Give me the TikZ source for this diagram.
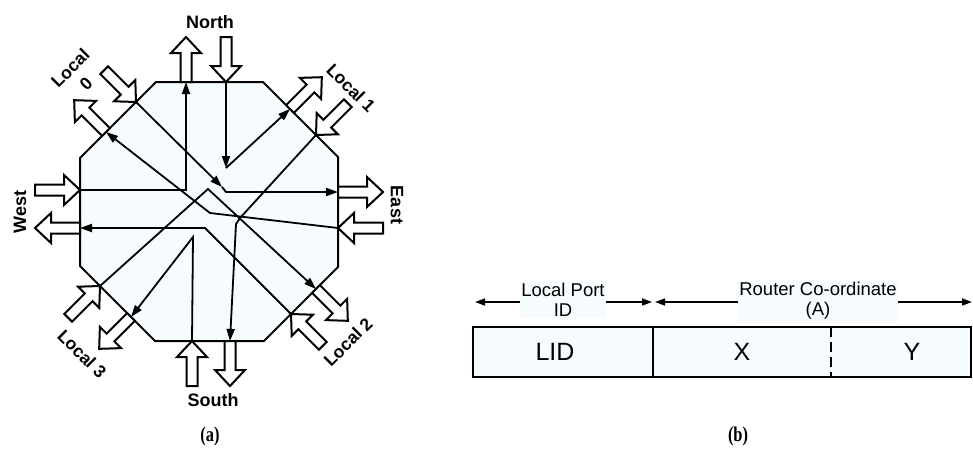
\documentclass[tikz,border=0pt]{standalone}
\usepackage{fontspec}
\setmainfont{Liberation Sans}
\newfontfamily\capfont{Liberation Serif}
\usetikzlibrary{arrows.meta}
\definecolor{panel}{RGB}{246,251,253}
\newcommand\outarrow[2]{\draw[barrow,shift={(#1)},rotate=#2] (0,5.5) -- (29,5.5) -- (29,15) -- (45,0) -- (29,-15) -- (29,-5.5) -- (0,-5.5) -- cycle;}
\newcommand\inarrow[2]{\draw[barrow,shift={(#1)},rotate=#2] (0,0) -- (-16,15) -- (-16,5.5) -- (-45,5.5) -- (-45,-5.5) -- (-16,-5.5) -- (-16,-15) -- cycle;}
\begin{document}
\begin{tikzpicture}[x=1pt,y=-1pt,
  edge/.style={line width=2pt, line join=miter},
  barrow/.style={line width=2pt, line join=miter, fill=white},
  flow/.style={line width=1.8pt, line join=miter, -{Triangle[length=12pt,width=8pt]}},
  compass/.style={font=\fontsize{18}{20}\selectfont\bfseries, inner sep=0pt},
  loc/.style={font=\fontsize{17.5}{22}\selectfont\bfseries, inner sep=0pt, align=center},
  field/.style={font=\fontsize{25}{28}\selectfont, inner sep=0pt},
  dimtxt/.style={font=\fontsize{18.5}{20}\selectfont, fill=panel, inner sep=1pt, align=center},
  dimline/.style={line width=1.6pt, {Triangle[length=10pt,width=7pt]}-{Triangle[length=10pt,width=7pt]}},
  captxt/.style={font=\capfont\fontsize{21}{24}\selectfont\bfseries, inner sep=0pt}]
\useasboundingbox (0,0) rectangle (973,466);
\fill[white] (0,0) rectangle (973,466);

% ---------- (a) router ----------
\draw[edge, fill=panel] (156,82) -- (263,82) -- (338,157) -- (338,267) -- (264,341) -- (155,341) -- (80,266) -- (80,158) -- cycle;

% ports
\coordinate (No) at (186,82);
\coordinate (Ni) at (226,82);
\coordinate (L1o) at (290,109);
\coordinate (L1i) at (316,135);
\coordinate (Eo) at (338,192);
\coordinate (Ei) at (338,228);
\coordinate (L2o) at (316,289);
\coordinate (L2i) at (291,314);
\coordinate (Si) at (192,341);
\coordinate (So) at (230,341);
\coordinate (L3i) at (100,286);
\coordinate (L3o) at (131,317);
\coordinate (Wi) at (80,190);
\coordinate (Wo) at (80,228);
\coordinate (L0i) at (136,102);
\coordinate (L0o) at (106,132);

% inner bends
\coordinate (wn) at (186,190);
\coordinate (nl) at (226,168);
\coordinate (le1) at (222,187);
\coordinate (le2) at (226,192);
\coordinate (el) at (210,213);
\coordinate (ls1) at (240,218);
\coordinate (ls2) at (236,224);
\coordinate (ll) at (208,189);
\coordinate (lw) at (205,228);
\coordinate (sl) at (193,237);

% block arrows
\outarrow{No}{90}
\inarrow{Ni}{-90}
\outarrow{L1o}{45}
\inarrow{L1i}{225}
\outarrow{Eo}{0}
\inarrow{Ei}{180}
\outarrow{L2o}{-45}
\inarrow{L2i}{135}
\inarrow{Si}{90}
\outarrow{So}{-90}
\inarrow{L3i}{45}
\outarrow{L3o}{225}
\inarrow{Wi}{0}
\outarrow{Wo}{180}
\inarrow{L0i}{-45}
\outarrow{L0o}{135}

% internal routes
\draw[flow] (Wi) -- (wn) -- (No);
\draw[flow] (Ni) -- (nl);
\draw[flow] (nl) -- (L1o);
\draw[flow] (L0i) -- (le1);
\draw[flow] (le1) -- (le2) -- (Eo);
\draw[flow] (Ei) -- (el) -- (L0o);
\draw[flow] (L1i) -- (ls1) -- (ls2) -- (So);
\draw[flow] (L3i) -- (ll) -- (L2o);
\draw[flow] (L2i) -- (lw) -- (Wo);
\draw[flow] (Si) -- (sl) -- (L3o);

% labels
\node[compass] (tN) at (210,22) {North};
\node[compass] (tS) at (213,400) {South};
\node[compass, rotate=90] (tW) at (20,212) {West};
\node[compass, rotate=-90] (tE) at (397,205) {East};
\node[loc, rotate=45] (t0) at (78,76) {Local\\0};
\node[loc, rotate=-45] (t1) at (351,88) {Local 1};
\node[loc, rotate=45] (t2) at (348,342) {Local 2};
\node[loc, rotate=-45] (t3) at (82,354) {Local 3};

% ---------- (b) address format ----------
\draw[edge, fill=panel] (473,327) rectangle (971,377);
\coordinate (s1t) at (653,327);
\coordinate (s1b) at (653,377);
\coordinate (s2t) at (831,327);
\coordinate (s2b) at (831,377);
\draw[edge] (s1t) -- (s1b);
\draw[edge, dash pattern=on 10pt off 5pt] (s2t) -- (s2b);
\node[field] (fL) at (555,352) {LID};
\node[field] (fX) at (742,352) {X};
\node[field] (fY) at (912,352) {Y};

\coordinate (d1) at (475,302);
\coordinate (d2) at (652,302);
\coordinate (d3) at (655,302);
\coordinate (d4) at (972,302);
\draw[dimline] (d1) -- (d2);
\draw[dimline] (d3) -- (d4);
\node[dimtxt] (tLP) at (563,300) {Local Port\\ID};
\node[dimtxt] (tRC) at (818,301) {Router Co-ordinate\\(A)};

% captions
\node[captxt] (ca) at (210,436) {\scalebox{0.78}[1]{(a)}};
\node[captxt] (cb) at (738,436) {\scalebox{0.78}[1]{(b)}};
\end{tikzpicture}
\end{document}
